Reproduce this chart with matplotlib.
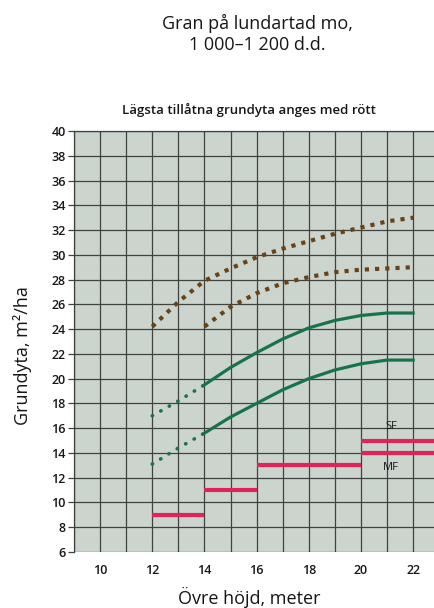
import numpy as np
import matplotlib
matplotlib.use("Agg")
import matplotlib.pyplot as plt

plt.rcParams['font.family'] = ['Open Sans', 'DejaVu Sans']

# upper heights (m)
h_brown_hi = [12, 13, 14, 15, 16, 17, 18, 19, 20, 21, 22]
g_brown_hi = [24.2, 26.2, 27.9, 28.9, 29.8, 30.5, 31.1, 31.7, 32.2, 32.7, 33.0]
h_brown_lo = [14, 15, 16, 17, 18, 19, 20, 21, 22]
g_brown_lo = [24.2, 25.8, 26.9, 27.7, 28.2, 28.6, 28.8, 28.9, 29.0]

h_green = [12, 13, 14, 15, 16, 17, 18, 19, 20, 21, 22]
g_green_hi = [17.0, 18.2, 19.5, 20.9, 22.1, 23.2, 24.1, 24.7, 25.1, 25.3, 25.3]
g_green_lo = [13.1, 14.4, 15.6, 16.9, 18.0, 19.1, 20.0, 20.7, 21.2, 21.5, 21.5]

# lowest allowed basal area (red)
red_x0 = [12, 14, 16, 20, 20]
red_x1 = [14, 16, 20, 23, 23]
red_y = [9, 11, 13, 15, 14]

xticks = [10, 12, 14, 16, 18, 20, 22]
yticks = list(range(6, 41, 2))

bg = '#ccd5cd'
gridc = '#3f423f'
brown = '#6a4218'
green = '#17744a'
red = '#e0245a'
txt = '#161616'

fig = plt.figure(figsize=(4.34, 6.08), dpi=100)
ax = fig.add_axes([74/434, 1-552/608, 1-74/434, (552-131)/608])
ax.set_facecolor(bg)
ax.set_xlim(9, 22.8)
ax.set_ylim(6, 40)

for x in range(9, 23):
    ax.axvline(x, color=gridc, lw=0.9, zorder=1)
for y in yticks:
    ax.axhline(y, color=gridc, lw=0.9, zorder=1)

for s in ['right', 'bottom']:
    ax.spines[s].set_visible(False)
for s in ['left', 'top']:
    ax.spines[s].set_color(gridc)
    ax.spines[s].set_linewidth(0.9)

# brown dotted curves
for hx, gy in [(h_brown_hi, g_brown_hi), (h_brown_lo, g_brown_lo)]:
    ax.plot(hx, gy, color=brown, lw=3.0, ls=(0, (1, 1.45)), dash_capstyle='butt', zorder=4)

# green curves: dotted for 12-14, solid from 14
for gy in [g_green_hi, g_green_lo]:
    ax.plot(h_green[:3], gy[:3], color=green, lw=2.6, ls=(0, (0.1, 2.6)),
            dash_capstyle='round', zorder=4)
    ax.plot(h_green[2:], gy[2:], color=green, lw=2.3, zorder=4)

for x0, x1, y in zip(red_x0, red_x1, red_y):
    ax.plot([x0, x1], [y, y], color=red, lw=3, solid_capstyle='butt', zorder=5)

ax.text(21.15, 16.1, 'SF', fontsize=8, ha='center', va='center', color=txt, zorder=6)
ax.text(21.15, 12.8, 'MF', fontsize=8, ha='center', va='center', color=txt, zorder=6)

ax.set_xticks(xticks)
ax.set_yticks(yticks)
ax.tick_params(axis='x', length=0, pad=9, labelsize=9, labelcolor=txt)
ax.tick_params(axis='y', length=4, width=0.9, color=gridc, pad=2, labelsize=9, labelcolor=txt)
for lab in ax.get_xticklabels() + ax.get_yticklabels():
    lab.set_fontweight('semibold')

ax.set_xlabel('Övre höjd, meter', fontsize=13, color=txt)
ax.set_ylabel('Grundyta, m²/ha', fontsize=13, color=txt)
ax.xaxis.set_label_coords((249-74)/(434-74), -(597-552)/421, transform=ax.transAxes)
ax.xaxis.label.set_va('center')
ax.yaxis.set_label_coords(-(74-23)/360, (552-356)/421)
ax.yaxis.label.set_va('center')

fig.text(257/434, 1-23/608, 'Gran på lundartad mo,', ha='center', va='center', fontsize=13,
         color=txt)
fig.text(257/434, 1-45/608, '1 000–1 200 d.d.', ha='center', va='center', fontsize=13,
         color=txt)
fig.text(249/434, 1-110/608, 'Lägsta tillåtna grundyta anges med rött', ha='center', va='center',
         fontsize=9.5, color=txt, fontweight='semibold')

fig.savefig('out.png', dpi=100, facecolor='white')
